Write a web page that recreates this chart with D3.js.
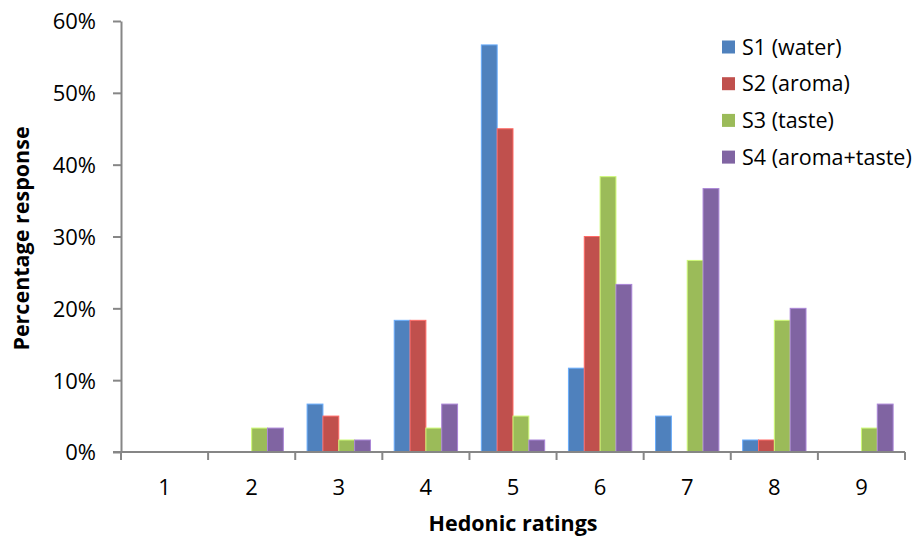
<!DOCTYPE html>
<html lang="en">
<head>
<meta charset="UTF-8">
<title>Hedonic ratings</title>
<script src="https://d3js.org/d3.v7.min.js"></script>
<style>
  body { margin: 0; background: #fff; }
  svg text { font-family: "Open Sans", "DejaVu Sans", sans-serif; fill: #000; }
  .axis path, .axis line { stroke: #868686; stroke-width: 2; }
  .axis text { font-size: 22px; }
  .title { font-size: 21.5px; font-weight: bold; }
  .legend text { font-size: 21.5px; }
</style>
</head>
<body>
<div id="chart"></div>
<script>
const ratings = ["1", "2", "3", "4", "5", "6", "7", "8", "9"];
const seriesNames = ["S1 (water)", "S2 (aroma)", "S3 (taste)", "S4 (aroma+taste)"];
const colors = ["#4F81BD", "#C0504D", "#9BBB59", "#8064A2"];
const s1 = [0, 0, 6.67, 18.33, 56.67, 11.67, 5, 1.67, 0];
const s2 = [0, 0, 5, 18.33, 45, 30, 0, 1.67, 0];
const s3 = [0, 3.33, 1.67, 3.33, 5, 38.33, 26.67, 18.33, 3.33];
const s4 = [0, 3.33, 1.67, 6.67, 1.67, 23.33, 36.67, 20, 6.67];
const yTicks = [0, 10, 20, 30, 40, 50, 60];

const allSeries = [s1, s2, s3, s4];
const width = 916, height = 543;
const margin = {top: 21, right: 10, bottom: 91, left: 121};
const w = 905 - margin.left, h = 452 - margin.top;

const svg = d3.select("#chart").append("svg")
  .attr("width", width).attr("height", height);
const g = svg.append("g").attr("transform", `translate(${margin.left},${margin.top})`);

const x0 = d3.scaleBand().domain(ratings).range([0, w]).paddingInner(0).paddingOuter(0);
const x1 = d3.scaleBand().domain(seriesNames).range([0, x0.bandwidth()])
  .paddingInner(0).paddingOuter(0.75);
const y = d3.scaleLinear().domain([0, 60]).range([h, 0]);

// bars
ratings.forEach((r, i) => {
  const grp = g.append("g").attr("transform", `translate(${x0(r)},0)`);
  seriesNames.forEach((s, j) => {
    const v = allSeries[j][i];
    if (v <= 0) return;
    grp.append("rect")
      .attr("x", x1(s)).attr("width", x1.bandwidth())
      .attr("y", y(v)).attr("height", h - y(v))
      .attr("fill", colors[j])
      .attr("stroke", d3.color(colors[j]).brighter(0.8))
      .attr("stroke-width", 1);
  });
});

// y axis
g.append("g").attr("class", "axis")
  .call(d3.axisLeft(y).tickValues(yTicks).tickFormat(d => d + "%").tickSize(8).tickSizeOuter(0).tickPadding(17))
  .call(a => a.selectAll("text").attr("dy", "0.36em"));

// x axis with ticks between categories
const xAxis = g.append("g").attr("class", "axis").attr("transform", `translate(0,${h})`);
xAxis.append("line").attr("x1", -8).attr("x2", w).attr("y1", 0).attr("y2", 0);
d3.range(ratings.length + 1).forEach(k => {
  const xx = k * x0.bandwidth();
  xAxis.append("line").attr("x1", xx).attr("x2", xx).attr("y1", 0).attr("y2", 8);
});
ratings.forEach(r => {
  xAxis.append("text").attr("x", x0(r) + x0.bandwidth() / 2).attr("y", 35)
    .attr("text-anchor", "middle").attr("dy", "0.36em").text(r);
});

// axis titles
svg.append("text").attr("class", "title")
  .attr("x", margin.left + w / 2).attr("y", 531).attr("text-anchor", "middle")
  .text("Hedonic ratings");
svg.append("text").attr("class", "title")
  .attr("transform", `translate(29,${margin.top + h / 2 + 2}) rotate(-90)`)
  .attr("text-anchor", "middle").text("Percentage response");

// legend
const legend = svg.append("g").attr("class", "legend").attr("transform", "translate(722,47)");
seriesNames.forEach((s, j) => {
  const row = legend.append("g").attr("transform", `translate(0,${j * 36.7})`);
  row.append("rect").attr("x", 0).attr("y", -6.5).attr("width", 13).attr("height", 13).attr("fill", colors[j]);
  row.append("text").attr("x", 20).attr("y", 0).attr("dy", "0.36em").text(s);
});
</script>
</body>
</html>
